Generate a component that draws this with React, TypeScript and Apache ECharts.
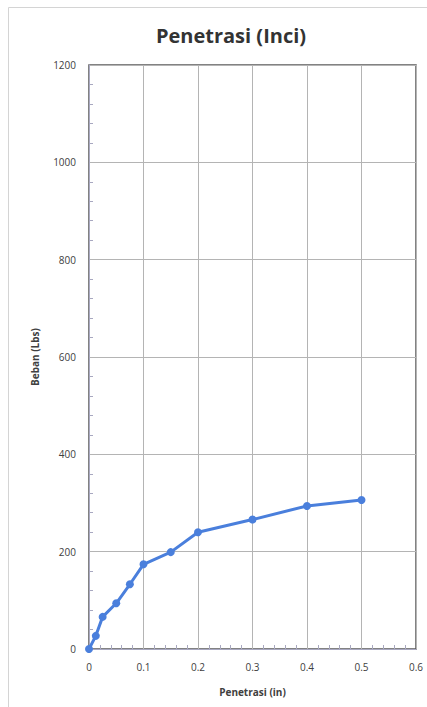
import React, { useEffect, useRef } from "react";
import * as echarts from "echarts";

// Penetration (in) vs load (lbs)
const penetrasi = [0, 0.0125, 0.025, 0.05, 0.075, 0.1, 0.15, 0.2, 0.3, 0.4, 0.5];
const beban = [0, 27, 66, 94, 133, 174, 199, 240, 266, 294, 306];

const xTicks = [0, 0.1, 0.2, 0.3, 0.4, 0.5, 0.6];
const yTicks = [0, 200, 400, 600, 800, 1000, 1200];

const FONT = "'Open Sans', 'Noto Sans', sans-serif";
const TEXT = "#404040";

export default function App() {
  const ref = useRef<HTMLDivElement>(null);

  useEffect(() => {
    if (!ref.current) return;
    const chart = echarts.init(ref.current, undefined, { renderer: "svg" });
    chart.setOption({
      animation: false,
      backgroundColor: "#ffffff",
      title: {
        text: "Penetrasi (Inci)",
        left: 226,
        top: 20,
        textAlign: "center",
        textStyle: { fontFamily: FONT, fontSize: 20, fontWeight: "bold", color: "#333333" },
      },
      graphic: [
        {
          type: "polyline",
          shape: { points: [[8.5, 707], [8.5, 7.5], [427, 7.5]] },
          style: { stroke: "#d4d4d4", lineWidth: 1, fill: "none" },
          silent: true,
        },
      ],
      grid: {
        left: 89,
        right: 11,
        top: 65,
        bottom: 58,
        show: true,
        borderColor: "#5a5a5a",
        borderWidth: 1.5,
      },
      xAxis: {
        type: "value",
        min: xTicks[0],
        max: xTicks[xTicks.length - 1],
        interval: 0.1,
        name: "Penetrasi (in)",
        nameLocation: "middle",
        nameGap: 38,
        nameTextStyle: { fontFamily: FONT, fontSize: 10, fontWeight: "bold", color: TEXT },
        axisLine: { show: true, lineStyle: { color: "#a8a8c0", width: 1 } },
        axisTick: { show: false, inside: true },
        minorTick: { show: true, splitNumber: 5, length: 4, lineStyle: { color: "#a8a8c0" } },
        axisLabel: {
          margin: 13,
          fontFamily: FONT,
          fontSize: 10,
          color: TEXT,
          formatter: (v: number) => String(Number(v.toFixed(1))),
        },
        splitLine: { show: true, lineStyle: { color: "#b4b4b4", width: 1 } },
      },
      yAxis: {
        type: "value",
        min: yTicks[0],
        max: yTicks[yTicks.length - 1],
        interval: 200,
        name: "Beban (Lbs)",
        nameLocation: "middle",
        nameGap: 49,
        nameTextStyle: { fontFamily: FONT, fontSize: 10, fontWeight: "bold", color: TEXT },
        axisLine: { show: true, lineStyle: { color: "#a8a8c0", width: 1 } },
        axisTick: { show: false, inside: true },
        minorTick: { show: true, splitNumber: 5, length: 4, lineStyle: { color: "#a8a8c0" } },
        axisLabel: {
          margin: 13,
          fontFamily: FONT,
          fontSize: 10,
          color: TEXT,
          formatter: (v: number) => String(v),
        },
        splitLine: { show: true, lineStyle: { color: "#b4b4b4", width: 1 } },
      },
      series: [
        {
          type: "line",
          data: penetrasi.map((x, i) => [x, beban[i]]),
          lineStyle: { color: "#4a7fdc", width: 3 },
          itemStyle: { color: "#4a7fdc" },
          symbol: "circle",
          symbolSize: 8,
        },
      ],
    });
    return () => chart.dispose();
  }, []);

  return (
    <div
      ref={ref}
      style={{ position: "absolute", left: 0, top: 0, width: 427, height: 707 }}
    />
  );
}
